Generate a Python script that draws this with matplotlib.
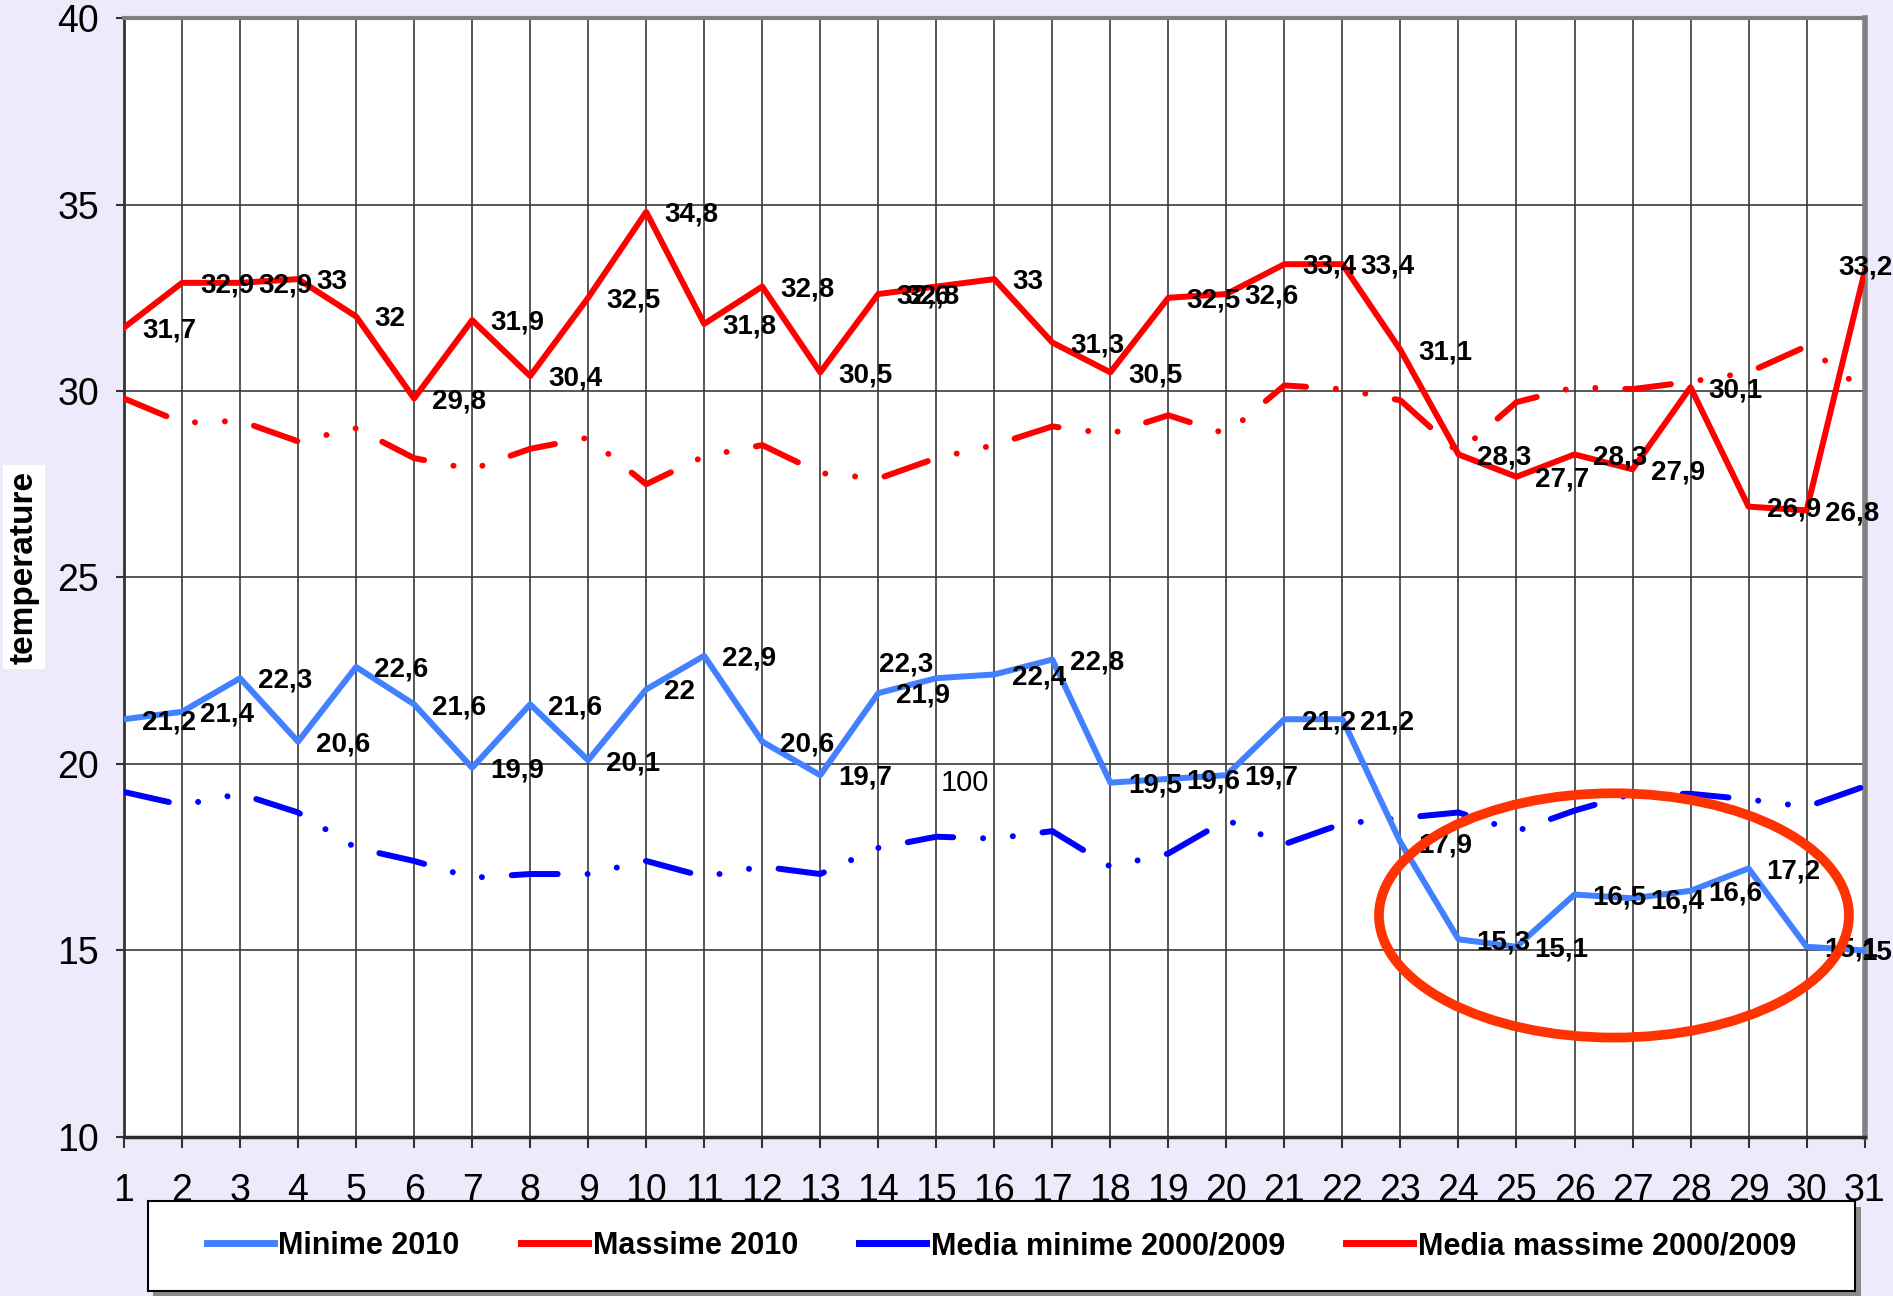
import numpy as np
import matplotlib
matplotlib.use('Agg')
import matplotlib.pyplot as plt
from matplotlib.lines import Line2D
from matplotlib.patches import Ellipse, Rectangle

plt.rcParams['font.family'] = ['Liberation Sans Narrow', 'Liberation Sans', 'DejaVu Sans']

days = np.arange(1, 32)
minime = [21.2, 21.4, 22.3, 20.6, 22.6, 21.6, 19.9, 21.6, 20.1, 22.0, 22.9, 20.6, 19.7, 21.9, 22.3, 22.4,
          22.8, 19.5, 19.6, 19.7, 21.2, 21.2, 17.9, 15.3, 15.1, 16.5, 16.4, 16.6, 17.2, 15.1, 15.0]
massime = [31.7, 32.9, 32.9, 33.0, 32.0, 29.8, 31.9, 30.4, 32.5, 34.8, 31.8, 32.8, 30.5, 32.6, 32.8, 33.0,
           31.3, 30.5, 32.5, 32.6, 33.4, 33.4, 31.1, 28.3, 27.7, 28.3, 27.9, 30.1, 26.9, 26.8, 33.2]
media_min = [19.25, 18.9, 19.2, 18.7, 17.75, 17.4, 16.95, 17.05, 17.05, 17.4, 16.98, 17.25, 17.05, 17.75,
             18.05, 18.0, 18.2, 17.25, 17.6, 18.5, 17.85, 18.4, 18.55, 18.7, 18.2, 18.75, 19.2, 19.2,
             19.05, 18.85, 19.4]
media_max = [29.8, 29.15, 29.2, 28.65, 29.0, 28.2, 27.9, 28.45, 28.75, 27.5, 28.25, 28.55, 27.8, 27.65,
             28.2, 28.55, 29.05, 28.85, 29.35, 28.85, 30.15, 30.05, 29.75, 28.35, 29.7, 30.1, 30.05,
             30.25, 30.5, 31.2, 30.0]

c_min = '#4280FF'
c_max = '#FF0000'
c_mmin = '#0000FF'
c_mmax = '#FF0000'

fig = plt.figure(figsize=(18.93, 12.96), dpi=100)
fig.patch.set_facecolor('#EEEAFB')
ax = fig.add_axes([0.0655, 0.1227, 0.9195, 0.8634])
ax.set_facecolor('white')

pattern = (7.7, 5, 0.01, 5, 0.01, 5)
ax.plot(days, media_min, color=c_mmin, lw=4.3, dashes=pattern, dash_capstyle='round', zorder=3)
ax.plot(days, media_max, color=c_mmax, lw=4.3, dashes=pattern, dash_capstyle='round', zorder=3)
ax.plot(days, minime, color=c_min, lw=4.3, zorder=4)
ax.plot(days, massime, color=c_max, lw=4.3, zorder=4)

def fmt(v):
    s = ('%.1f' % v).replace('.', ',')
    return s[:-2] if s.endswith(',0') else s

lab_kw = dict(textcoords='offset points', va='center', ha='left', fontsize=20,
              fontweight='bold', zorder=6, annotation_clip=False)
for d, v in zip(days, minime):
    off = (13, -2)
    ha = 'left'
    if d == 15:
        off, ha = (-22, 10), 'center'
    if d == 31:
        off, ha = (20, -2), 'right'
    ax.annotate(fmt(v), (d, v), xytext=off, **{**lab_kw, 'ha': ha})
for d, v in zip(days, massime):
    off = (13, -2)
    ha = 'left'
    if d == 15:
        off = (-22, -7)
    if d == 31:
        off, ha = (20, 3), 'right'
    ax.annotate(fmt(v), (d, v), xytext=off, **{**lab_kw, 'ha': ha})
ax.text(15.5, 19.5, '100', fontsize=21, ha='center', va='center', zorder=6)

ax.add_patch(Ellipse((26.68, 15.94), 8.1, 6.55, fill=False, edgecolor='#FF3300', lw=7, zorder=7))

ax.set_xlim(1, 31)
ax.set_ylim(10, 40)
ax.set_xticks(days)
ax.set_yticks(np.arange(10, 41, 5))
ax.grid(True, color='#3A3A3A', lw=1.2)
ax.set_axisbelow(True)
ax.tick_params(axis='y', direction='out', length=6, width=1.5, pad=12, labelsize=27, color='#333333')
ax.tick_params(axis='x', direction='out', length=8, width=1.5, pad=18, labelsize=27, color='#333333')

ax.spines['top'].set_color('#808080')
ax.spines['top'].set_linewidth(3)
ax.spines['right'].set_color('#808080')
ax.spines['right'].set_linewidth(4)
ax.spines['bottom'].set_color('#2A2A2A')
ax.spines['bottom'].set_linewidth(2.5)
ax.spines['left'].set_color('#333333')
ax.spines['left'].set_linewidth(2)

fig.text(24 / 1893, 1 - 567 / 1296, 'temperature', rotation=90, ha='center', va='center',
         fontsize=24, fontweight='bold', family=['Liberation Sans', 'DejaVu Sans'],
         bbox=dict(facecolor='white', edgecolor='none', pad=4))

# legend box with shadow, kept under the axes so tick labels stay visible
box = (0.078, 0.004, 0.902, 0.069)
fig.patches.append(Rectangle((box[0] + 0.003, box[1] - 0.004), box[2], box[3], transform=fig.transFigure,
                             facecolor='#8A8A8A', edgecolor='none', zorder=-2))
fig.patches.append(Rectangle((box[0], box[1]), box[2], box[3], transform=fig.transFigure,
                             facecolor='white', edgecolor='black', lw=1.5, zorder=-1))

handles = [Line2D([], [], color=c_min, lw=5),
           Line2D([], [], color=c_max, lw=5),
           Line2D([], [], color=c_mmin, lw=5),
           Line2D([], [], color=c_mmax, lw=5)]
names = ['Minime 2010', 'Massime 2010', 'Media minime 2000/2009', 'Media massime 2000/2009']
leg = fig.legend(handles, names, loc='center', ncol=4, bbox_to_anchor=box,
                 prop={'weight': 'bold', 'size': 22}, handlelength=2.2, handletextpad=0.15,
                 columnspacing=2.0, frameon=False, borderaxespad=0)

fig.savefig('out.png', dpi=100, facecolor=fig.get_facecolor())
